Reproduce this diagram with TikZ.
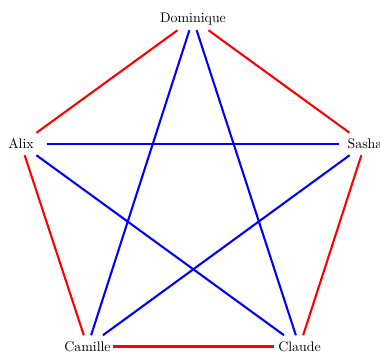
\documentclass[tikz,border=0pt]{standalone}
\begin{document}
\begin{tikzpicture}[x=0.72pt,y=-0.72pt,
  person/.style={rectangle,inner sep=0.5pt,minimum width=37pt,minimum height=15.8pt,font=\normalsize},
  sideedge/.style={draw=red,line width=1.5pt},
  diagedge/.style={draw=blue,line width=1.5pt}]
\useasboundingbox (0,0) rectangle (380,352);
\node[person] (dom) at (193,19) {Dominique};
\node[person] (alix) at (21,144) {Alix};
\node[person] (sasha) at (365,144) {Sasha};
\node[person] (cam) at (87.5,346.5) {Camille};
\node[person] (cla) at (299.5,346.5) {Claude};
\draw[sideedge] (alix) -- (dom);
\draw[sideedge] (dom) -- (sasha);
\draw[sideedge] (sasha) -- (cla);
\draw[sideedge] (cla) -- (cam);
\draw[sideedge] (cam) -- (alix);
\draw[diagedge] (alix) -- (sasha);
\draw[diagedge] (alix) -- (cla);
\draw[diagedge] (dom) -- (cam);
\draw[diagedge] (dom) -- (cla);
\draw[diagedge] (sasha) -- (cam);
\end{tikzpicture}
\end{document}
